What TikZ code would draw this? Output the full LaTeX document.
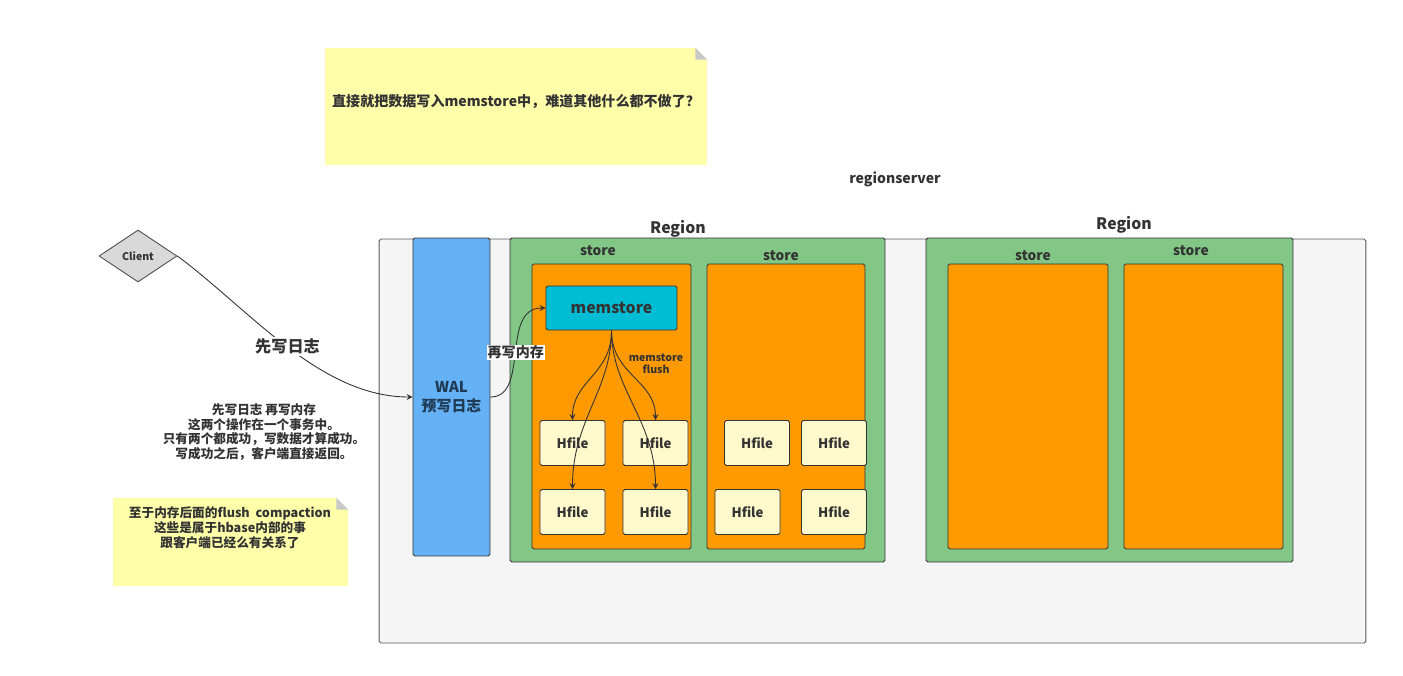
\documentclass[tikz,border=0pt]{standalone}
\usepackage{fontspec}
\setmainfont{Noto Sans CJK SC}
\usetikzlibrary{shapes.geometric}

\definecolor{rsgray}{HTML}{F5F5F5}
\definecolor{walblue}{HTML}{64B1F5}
\definecolor{regiongreen}{HTML}{82C785}
\definecolor{storeorange}{HTML}{FF9900}
\definecolor{memcyan}{HTML}{00BCD4}
\definecolor{hfileyellow}{HTML}{FFF9CC}
\definecolor{noteyellow}{HTML}{FFFFAA}
\definecolor{clientgray}{HTML}{D9D9D9}
\definecolor{foldgray}{HTML}{C8C8C8}
\definecolor{txtdark}{HTML}{333333}
\definecolor{walnavy}{HTML}{1F3A52}

\begin{document}
\begin{tikzpicture}[x=0.02cm,y=-0.02cm,
    box/.style={draw=black!80,line width=0.5pt,rounded corners=1pt,inner sep=0pt},
    regionbox/.style={box,fill=regiongreen,minimum height=6.48cm},
    storebox/.style={box,fill=storeorange,minimum height=5.7cm},
    hfile/.style={box,fill=hfileyellow,minimum width=1.3cm,minimum height=0.9cm,font=\fontsize{7.5}{9}\selectfont\bfseries,text=txtdark},
    storelbl/.style={font=\fontsize{7.8}{9}\selectfont\bfseries,text=txtdark},
    regionlbl/.style={font=\fontsize{9}{10}\selectfont\bfseries,text=txtdark},
    notebox/.style={fill=noteyellow,inner sep=0pt},
    notetxt/.style={align=center,text=txtdark},
    flow/.style={-stealth,line width=0.5pt,draw=black!80}]

    \useasboundingbox (0,0) rectangle (1403,676);

    % regionserver
    \node[box,fill=rsgray,draw=black!65,minimum width=19.74cm,minimum height=8.08cm] (rs) at (872.5,441) {};
    \node[font=\fontsize{8}{9}\selectfont\bfseries,text=txtdark] (rslbl) at (895,179) {regionserver};

    % WAL
    \node[box,fill=walblue,minimum width=1.54cm,minimum height=6.36cm,align=center,font=\fontsize{8.5}{11}\selectfont\bfseries,text=walnavy] (wal) at (451.5,397) {WAL\\预写日志};

    % first region
    \node[regionbox,minimum width=7.5cm] (reg1) at (697.5,400) {};
    \node[regionlbl] (reg1lbl) at (678,229) {Region};
    \node[storebox,minimum width=3.18cm] (s11) at (611.5,406.5) {};
    \node[storelbl] (s11lbl) at (598,251) {store};
    \node[storebox,minimum width=3.16cm] (s12) at (786,406.5) {};
    \node[storelbl] (s12lbl) at (781,256) {store};

    \node[box,fill=memcyan,minimum width=2.62cm,minimum height=0.88cm,font=\fontsize{9}{10}\selectfont\bfseries,text=txtdark] (mem) at (611.5,308) {memstore};

    \node[hfile] (h1) at (572.5,443) {Hfile};
    \node[hfile] (h2) at (655.5,443) {Hfile};
    \node[hfile] (h3) at (572.5,512) {Hfile};
    \node[hfile] (h4) at (655.5,512) {Hfile};
    \node[hfile] (h5) at (757,443) {Hfile};
    \node[hfile] (h6) at (834,443) {Hfile};
    \node[hfile] (h7) at (747.5,512) {Hfile};
    \node[hfile] (h8) at (834,512) {Hfile};

    \draw[flow] (mem.south) .. controls (611.5,375) and (572.5,380) .. (h1.north);
    \draw[flow] (mem.south) .. controls (611.5,375) and (655.5,380) .. (h2.north);
    \draw[flow] (mem.south) .. controls (611.5,390) and (572.5,420) .. (h3.north);
    \draw[flow] (mem.south) .. controls (611.5,390) and (655.5,420) .. (h4.north);
    \node[align=center,font=\fontsize{6}{7}\selectfont\bfseries,text=txtdark] (flushlbl) at (656,364) {memstore\\flush};

    % second region
    \node[regionbox,minimum width=7.34cm] (reg2) at (1109.5,400) {};
    \node[regionlbl] (reg2lbl) at (1124,225) {Region};
    \node[storebox,minimum width=3.2cm] (s21) at (1028,406.5) {};
    \node[storelbl] (s21lbl) at (1033,256) {store};
    \node[storebox,minimum width=3.18cm] (s22) at (1203.5,406.5) {};
    \node[storelbl] (s22lbl) at (1191,251) {store};

    % client and writes
    \node[diamond,draw=black!70,fill=clientgray,line width=0.5pt,minimum width=1.56cm,minimum height=1.04cm,inner sep=0pt,font=\fontsize{6}{7}\selectfont\bfseries,text=txtdark] (client) at (138,256) {Client};

    \draw[flow] (client.east) .. controls (250,310) and (320,397) .. (wal.west)
        node[pos=.5,fill=white,inner sep=1pt,font=\fontsize{9.2}{10}\selectfont\bfseries,text=txtdark] (logfirst) {先写日志};
    \draw[flow] (wal.east) .. controls (530,397) and (500,308) .. (mem.west)
        node[pos=.5,fill=white,inner sep=0.5pt,font=\fontsize{8}{9}\selectfont\bfseries,text=txtdark] (memnext) {再写内存};

    \node[notetxt,font=\fontsize{7.2}{8.4}\selectfont\bfseries] (txn) at (264,432) {先写日志 再写内存\\这两个操作在一个事务中。\\只有两个都成功，写数据才算成功。\\写成功之后，客户端直接返回。};

    % notes
    \node[notebox,minimum width=7.64cm,minimum height=2.34cm] (note1) at (516,106.5) {};
    \fill[white] ([xshift=-0.24cm]note1.north east) -- (note1.north east) -- ([yshift=-0.24cm]note1.north east) -- cycle;
    \fill[foldgray] ([xshift=-0.24cm]note1.north east) -- ([xshift=-0.24cm,yshift=-0.24cm]note1.north east) -- ([yshift=-0.24cm]note1.north east) -- cycle;
    \node[notetxt,font=\fontsize{8}{9.6}\selectfont\bfseries] (note1txt) at (516,102) {直接就把数据写入memstore中，难道其他什么都不做了？};

    \node[notebox,minimum width=4.7cm,minimum height=1.76cm] (note2) at (230.5,542) {};
    \fill[white] ([xshift=-0.24cm]note2.north east) -- (note2.north east) -- ([yshift=-0.24cm]note2.north east) -- cycle;
    \fill[foldgray] ([xshift=-0.24cm]note2.north east) -- ([xshift=-0.24cm,yshift=-0.24cm]note2.north east) -- ([yshift=-0.24cm]note2.north east) -- cycle;
    \node[notetxt,font=\fontsize{7.2}{8.6}\selectfont\bfseries] (note2txt) at (230,528) {至于内存后面的flush\ \ compaction\\这些是属于hbase内部的事\\跟客户端已经么有关系了};
\end{tikzpicture}
\end{document}
